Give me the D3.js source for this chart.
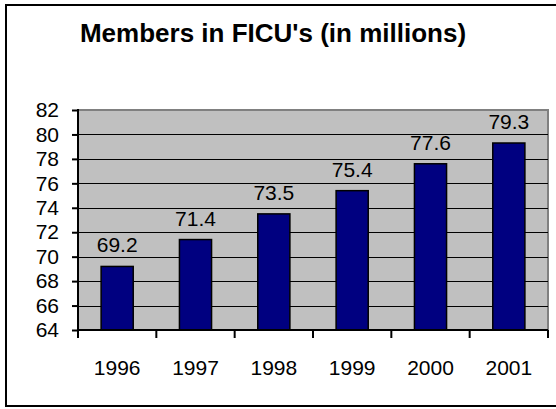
<!DOCTYPE html>
<html>
<head>
<meta charset="utf-8">
<script src="https://cdn.jsdelivr.net/npm/d3@7"></script>
<style>
  body { margin: 0; background: #fff; }
  text { font-family: Arial, "Liberation Sans", sans-serif; fill: #000; }
</style>
</head>
<body>
<div id="chart-area"></div>
<script>
var years = ["1996", "1997", "1998", "1999", "2000", "2001"]
var members = [69.2, 71.4, 73.5, 75.4, 77.6, 79.3]
var yTicks = [64, 66, 68, 70, 72, 74, 76, 78, 80, 82]
var title = "Members in FICU's (in millions)"

var data = years.map(function(y, i){
    return {year: y, value: members[i]}
})

var W = 556, H = 409
var plot = {left: 78, top: 110, right: 548, bottom: 330}
var labelSize = "21px"

var svg = d3.select("#chart-area")
    .append("svg")
    .attr("width", W)
    .attr("height", H)

// outer frame
svg.append("rect")
    .attr("x", 6).attr("y", 5)
    .attr("width", W + 10).attr("height", 401)
    .attr("fill", "#fff")
    .attr("stroke", "#000")
    .attr("stroke-width", 2)

svg.append("text")
    .attr("x", 273).attr("y", 42)
    .attr("text-anchor", "middle")
    .style("font-size", "26px")
    .style("font-weight", "bold")
    .text(title)

var x = d3.scaleBand()
    .domain(years)
    .range([plot.left, plot.right])
    .paddingInner(0.59)
    .paddingOuter(0.295)

var xOuter = d3.scaleBand()
    .domain(years)
    .range([plot.left, plot.right])

var y = d3.scaleLinear()
    .domain([64, 82])
    .range([plot.bottom, plot.top])

// plot background
svg.append("rect")
    .attr("x", plot.left).attr("y", plot.top)
    .attr("width", plot.right - plot.left)
    .attr("height", plot.bottom - plot.top)
    .attr("fill", "#c0c0c0")
    .attr("stroke", "#808080")
    .attr("stroke-width", 2)

// gridlines
svg.append("g")
    .selectAll("line")
    .data(yTicks.filter(function(t){ return t > 64 && t < 82 }))
    .enter().append("line")
    .attr("x1", plot.left).attr("x2", plot.right)
    .attr("y1", function(d){ return Math.round(y(d)) + 0.5 })
    .attr("y2", function(d){ return Math.round(y(d)) + 0.5 })
    .attr("stroke", "#000")
    .attr("stroke-width", 1.2)

// bars
svg.append("g")
    .selectAll("rect")
    .data(data)
    .enter().append("rect")
    .attr("x", function(d){ return x(d.year) })
    .attr("y", function(d){ return y(d.value) })
    .attr("width", x.bandwidth())
    .attr("height", function(d){ return plot.bottom - y(d.value) })
    .attr("fill", "#000080")
    .attr("stroke", "#000")
    .attr("stroke-width", 1.5)

// value labels
svg.append("g")
    .selectAll("text")
    .data(data)
    .enter().append("text")
    .attr("x", function(d){ return x(d.year) + x.bandwidth() / 2 })
    .attr("y", function(d){ return y(d.value) - 14 })
    .attr("text-anchor", "middle")
    .style("font-size", labelSize)
    .text(function(d){ return d.value.toFixed(1) })

// y axis
var yAxis = d3.axisLeft(y)
    .tickValues(yTicks)
    .tickSize(6)
    .tickPadding(13)
    .tickFormat(d3.format("d"))

var gy = svg.append("g")
    .attr("transform", "translate(" + plot.left + ",0)")
    .call(yAxis)
gy.select(".domain").remove()
gy.selectAll(".tick line").attr("stroke", "#000").attr("stroke-width", 2)
gy.selectAll("text").style("font-size", labelSize).attr("font-family", null)

svg.append("line")
    .attr("x1", plot.left).attr("x2", plot.left)
    .attr("y1", plot.top - 1).attr("y2", plot.bottom + 1)
    .attr("stroke", "#000").attr("stroke-width", 2)

// x axis
var xAxis = d3.axisBottom(xOuter)
    .tickSize(0)
    .tickPadding(30)

var gx = svg.append("g")
    .attr("transform", "translate(0," + plot.bottom + ")")
    .call(xAxis)
gx.select(".domain").remove()
gx.selectAll("text").style("font-size", labelSize).attr("font-family", null)

svg.append("line")
    .attr("x1", plot.left - 1).attr("x2", plot.right)
    .attr("y1", plot.bottom).attr("y2", plot.bottom)
    .attr("stroke", "#000").attr("stroke-width", 2)

// category separators on x axis
svg.append("g")
    .selectAll("line")
    .data(years)
    .enter().append("line")
    .attr("x1", function(d){ return xOuter(d) + xOuter.bandwidth() })
    .attr("x2", function(d){ return xOuter(d) + xOuter.bandwidth() })
    .attr("y1", plot.bottom).attr("y2", plot.bottom + 8)
    .attr("stroke", "#000").attr("stroke-width", 2)

svg.append("line")
    .attr("x1", plot.left).attr("x2", plot.left)
    .attr("y1", plot.bottom).attr("y2", plot.bottom + 8)
    .attr("stroke", "#000").attr("stroke-width", 2)
</script>
</body>
</html>
